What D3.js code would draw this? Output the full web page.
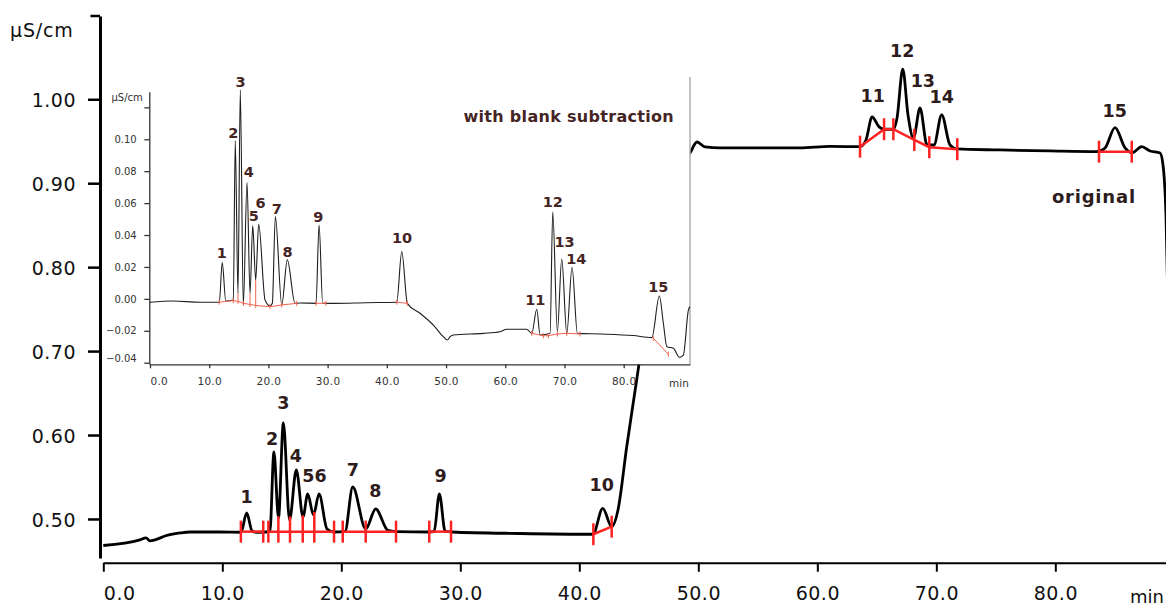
<!DOCTYPE html>
<html><head><meta charset="utf-8">
<script src="https://cdn.jsdelivr.net/npm/d3@7"></script>
<style>
html,body{margin:0;padding:0;background:#fff;}
svg{display:block;}
</style></head><body>
<svg id="chart" width="1166" height="606"></svg>
<script>
// ---------------- data ----------------
const mainTime = [0,3.08,3.59,3.92,4.34,5.18,6.45,7.29,9.8,11.57,12.05,12.5,12.83,13.67,14.0,14.34,14.72,15.13,15.65,16.22,16.78,17.18,17.66,18.13,18.8,19.39,20.31,20.96,22.05,22.89,23.92,24.6,27.45,27.8,28.24,28.73,29.3,35.0,41.15,41.97,42.72,43.25,43.98,44.82,45.94,47.62,48.88,49.3,49.89,50.56,51.82,58.54,61.07,63.59,64.09,64.6,65.19,65.61,66.39,66.7,67.18,67.62,68.08,68.63,69.22,69.8,70.45,71.15,71.74,75.35,79.55,83.5,84.18,85.02,85.86,86.45,87.26,87.96,88.8,89.05,89.3,89.64];
const mainSignal = [0.4684,0.475,0.4774,0.4738,0.475,0.4797,0.4833,0.4845,0.4845,0.4842,0.5071,0.4857,0.4842,0.4845,0.4851,0.5798,0.5012,0.6144,0.4988,0.5584,0.5024,0.5298,0.5048,0.5298,0.4881,0.4845,0.4851,0.5381,0.4881,0.5119,0.4863,0.4849,0.4845,0.4851,0.5298,0.4851,0.4845,0.4827,0.4818,0.5127,0.4908,0.5107,0.5858,0.6656,0.7728,0.88,0.9277,0.936,0.9491,0.9432,0.942,0.942,0.9438,0.9435,0.9515,0.9789,0.9671,0.9643,0.9643,0.9778,1.0358,0.9813,0.9539,0.9896,0.9455,0.9455,0.9813,0.9455,0.9408,0.9396,0.9384,0.9376,0.942,0.9662,0.942,0.9364,0.9435,0.9384,0.936,0.9217,0.8622,0.64];

const insetTime = [0,3.9,8.4,11.7,12.2,12.8,14.07,14.4,14.86,15.25,15.76,16.39,16.89,17.35,17.85,18.36,19.43,20.27,20.66,21.17,22.25,23.19,24.49,25.3,28.04,28.55,29.17,30.96,36.6,41.67,42.52,43.46,45.6,47.86,49.54,50.22,50.68,51.23,56.3,59.12,60.25,63.6,64.48,65.32,65.88,67.57,68.02,68.8,69.54,70.39,71.28,72.18,76.0,81.6,84.75,86.03,86.7,87.3,88.4,89.41,90.08,90.93,91.2];
const insetSignal = [-0.0021,-0.0013,-0.0021,-0.0021,0.0227,-0.0013,-0.0007,0.0991,0.0035,0.1309,-0.0038,0.0728,0.0035,0.0459,0.0118,0.0467,-0.0007,-0.0044,-0.0028,0.0515,-0.0038,0.0244,-0.0028,-0.0026,-0.0028,0.0463,-0.0028,-0.0028,-0.0024,-0.0021,0.0296,-0.0028,-0.009,-0.0164,-0.0237,-0.0258,-0.0237,-0.0226,-0.0216,-0.0206,-0.019,-0.019,-0.0216,-0.0065,-0.0226,-0.0216,0.0546,-0.0206,0.025,-0.0216,0.0198,-0.0216,-0.022,-0.023,-0.0243,0.0018,-0.0153,-0.03,-0.031,-0.0366,-0.0352,-0.007,-0.0049];

// integration baselines: [time, value] boundary points per group
const mainIntegration = [
  [[11.56,0.4849],[13.44,0.4849]],
  [[13.87,0.4849],[14.71,0.4849],[15.69,0.4849],[16.76,0.4849],[17.73,0.4849],[19.39,0.4849]],
  [[20.12,0.4849],[22.05,0.4849],[24.6,0.4849]],
  [[27.39,0.4849],[29.22,0.4849]],
  [[41.18,0.4818],[42.72,0.4908]],
  [[63.59,0.9435],[65.61,0.9643],[66.39,0.9643],[68.15,0.9515],[69.41,0.9429],[71.76,0.9405]],
  [[83.67,0.9376],[86.42,0.9376]]
];
const insetIntegration = [
  [[11.7,-0.0021],[14.07,-0.0011],[14.86,-0.0016],[15.76,-0.0028],[16.89,-0.0035],[17.85,-0.0041],[20.27,-0.0049],[22.25,-0.0038],[24.78,-0.0028]],
  [[28.04,-0.0028],[29.7,-0.0028]],
  [[41.67,-0.0021],[43.46,-0.0028]],
  [[64.48,-0.0216],[66.44,-0.0231],[67.28,-0.0231],[68.8,-0.022],[70.39,-0.0216],[72.64,-0.022]],
  [[85.0,-0.0247],[87.55,-0.0347]]
];

const mainPeakNames = ["1","2","3","4","56","7","8","9","10","11","12","13","14","15"];
const mainPeakTime  = [12.05,14.18,15.13,16.18,17.75,20.97,22.87,28.34,41.88,64.66,67.13,68.87,70.45,84.99];
const mainPeakLabelValue = [0.5187,0.5882,0.6307,0.5683,0.5444,0.5512,0.5259,0.5444,0.5337,0.9971,1.0508,1.015,0.9952,0.9786];

const insetPeakNames = ["1","2","3","4","5","6","7","8","9","10","11","12","13","14","15"];
const insetPeakTime  = [12.11,14.07,15.29,16.67,17.53,18.67,21.4,23.23,28.43,42.57,65.08,68.04,70.02,72.01,85.86];
const insetPeakLabelValue = [0.0254,0.1006,0.1326,0.0762,0.049,0.0568,0.0532,0.0261,0.048,0.0348,-0.0038,0.0574,0.0323,0.0219,0.0045];

const mainXTicks = [0,10,20,30,40,50,60,70,80];
const mainYTicks = [0.5,0.6,0.7,0.8,0.9,1.0];
const insetXTicks = [0,10,20,30,40,50,60,70,80];
const insetYTicks = [-0.04,-0.02,0,0.02,0.04,0.06,0.08,0.10,0.12];

// ---------------- drawing ----------------
const W = 1166, H = 606;
const svg = d3.select('#chart');
svg.append('rect').attr('width', W).attr('height', H).attr('fill', '#fff');

const FONT = "'DejaVu Sans', Verdana, sans-serif";
const LABEL_COLOR = '#2e1c1c';

const x = d3.scaleLinear().domain([0, 89.3]).range([103.3, 1166]);
const y = d3.scaleLinear().domain([0.4535, 1.0992]).range([558, 16]);

function interp(ts, vs, t) {
  const i = d3.bisectLeft(ts, t);
  if (i <= 0) return vs[0];
  if (i >= ts.length) return vs[vs.length - 1];
  const f = (t - ts[i-1]) / (ts[i] - ts[i-1]);
  return vs[i-1] + f * (vs[i] - vs[i-1]);
}

// main x axis
const gx = svg.append('g').attr('transform', 'translate(0,562.7)')
  .call(d3.axisBottom(x).tickValues(mainXTicks).tickSize(9).tickSizeOuter(0).tickFormat(d3.format('.1f')));
gx.select('.domain').attr('stroke', '#000').attr('stroke-width', 2);
gx.selectAll('.tick line').attr('stroke', '#000').attr('stroke-width', 2);
gx.selectAll('.tick text').attr('font-family', FONT).attr('font-size', 19).attr('fill', '#111')
  .attr('letter-spacing', 0.5).attr('y', 24)
  .attr('text-anchor', d => d === 0 ? 'start' : 'middle');
svg.append('text').attr('x', 1130).attr('y', 603).attr('font-family', FONT).attr('font-size', 18)
  .attr('fill', '#111').text('min');

// main y axis
const gy = svg.append('g').attr('transform', 'translate(100,0)')
  .call(d3.axisLeft(y).tickValues(mainYTicks).tickSize(12).tickSizeOuter(0).tickFormat(d3.format('.2f')));
gy.select('.domain').attr('stroke', '#000').attr('stroke-width', 3);
gy.selectAll('.tick line').attr('stroke', '#000').attr('stroke-width', 2.5);
gy.selectAll('.tick text').attr('font-family', FONT).attr('font-size', 19).attr('fill', '#111')
  .attr('letter-spacing', 0.5).attr('x', -24).attr('dy', '0.4em');
svg.append('line').attr('x1', 90.5).attr('x2', 100).attr('y1', y.range()[1]).attr('y2', y.range()[1])
  .attr('stroke', '#000').attr('stroke-width', 2.5);
svg.append('text').attr('x', 10).attr('y', 37).attr('font-family', FONT).attr('font-size', 19)
  .attr('fill', '#111').attr('letter-spacing', 0.8).text('μS/cm');

// main trace
const mainData = mainTime.map((t, i) => [t, mainSignal[i]]);
const lineMain = d3.line().x(d => x(d[0])).y(d => y(d[1])).curve(d3.curveMonotoneX);
svg.append('path').datum(mainData).attr('d', lineMain).attr('fill', 'none')
  .attr('stroke', '#000').attr('stroke-width', 2.8).attr('stroke-linejoin', 'round');

// main integration marks
const gRed = svg.append('g');
mainIntegration.forEach(group => {
  gRed.append('path').datum(group)
    .attr('d', d3.line().x(d => x(d[0])).y(d => y(d[1])))
    .attr('fill', 'none').attr('stroke', '#ff2222').attr('stroke-width', 2.5);
  group.forEach((p, i) => {
    const yb = y(p[1]);
    let top = yb - 11;
    if (i > 0 && i < group.length - 1) {
      top = Math.min(top, y(interp(mainTime, mainSignal, p[0])));
    }
    gRed.append('line').attr('x1', x(p[0])).attr('x2', x(p[0]))
      .attr('y1', yb + 11).attr('y2', top)
      .attr('stroke', '#ff2222').attr('stroke-width', 2.5);
  });
});

// main peak labels
svg.append('g').selectAll('text').data(mainPeakNames).join('text')
  .attr('x', (d, i) => x(mainPeakTime[i])).attr('y', (d, i) => y(mainPeakLabelValue[i]))
  .attr('text-anchor', 'middle').attr('font-family', FONT).attr('font-weight', 'bold')
  .attr('font-size', 17.5).attr('fill', LABEL_COLOR).text(d => d);
svg.append('text').attr('x', x(83.24)).attr('y', y(0.8768)).attr('text-anchor', 'middle')
  .attr('font-family', FONT).attr('font-weight', 'bold').attr('font-size', 18)
  .attr('letter-spacing', 0.8).attr('fill', LABEL_COLOR).text('original');

// ---------------- inset ----------------
const xi = d3.scaleLinear().domain([0, 91.2]).range([150, 690]);
const yi = d3.scaleLinear().domain([-0.041, 0.1298]).range([364.3, 91.7]);

const inset = svg.append('g');
inset.append('rect').attr('x', 103).attr('y', 72).attr('width', 587).attr('height', 292.3).attr('fill', '#fff');
inset.append('line').attr('x1', 690).attr('x2', 690).attr('y1', 77).attr('y2', 364.3)
  .attr('stroke', '#b0b0b0').attr('stroke-width', 1.5);

const gxi = inset.append('g').attr('transform', 'translate(0,364.3)')
  .call(d3.axisBottom(xi).tickValues(insetXTicks).tickSize(4).tickSizeOuter(0).tickFormat(d3.format('.1f')));
gxi.select('.domain').attr('stroke', '#333').attr('stroke-width', 1.3);
gxi.selectAll('.tick line').attr('stroke', '#333').attr('stroke-width', 1.3);
gxi.selectAll('.tick text').attr('font-family', FONT).attr('font-size', 10.5).attr('fill', '#333')
  .attr('letter-spacing', 0.3).attr('y', 13.2)
  .attr('text-anchor', d => d === 0 ? 'start' : 'middle');
inset.append('text').attr('x', 669).attr('y', 387).attr('font-family', FONT).attr('font-size', 10.5)
  .attr('fill', '#333').text('min');

const gyi = inset.append('g').attr('transform', 'translate(149.3,0)')
  .call(d3.axisLeft(yi).tickValues(insetYTicks).tickSize(5).tickSizeOuter(0)
    .tickFormat(d => d > 0.11 ? '' : d3.format('.2f')(d)));
gyi.select('.domain').attr('stroke', '#333').attr('stroke-width', 1.3);
gyi.selectAll('.tick line').attr('stroke', '#333').attr('stroke-width', 1.3);
gyi.selectAll('.tick text').attr('font-family', FONT).attr('font-size', 10).attr('fill', '#333')
  .attr('x', -12.6).attr('dy', d => d < -0.03 ? '-0.1em' : '0.32em');
inset.append('text').attr('x', 111.5).attr('y', 101).attr('font-family', FONT).attr('font-size', 10)
  .attr('fill', '#333').text('μS/cm');

// inset trace
const insetData = insetTime.map((t, i) => [t, insetSignal[i]]);
inset.append('path').datum(insetData)
  .attr('d', d3.line().x(d => xi(d[0])).y(d => yi(d[1])).curve(d3.curveMonotoneX))
  .attr('fill', 'none').attr('stroke', '#1e1e1e').attr('stroke-width', 1.1);

// inset integration
insetIntegration.forEach(group => {
  inset.append('path').datum(group)
    .attr('d', d3.line().x(d => xi(d[0])).y(d => yi(d[1])))
    .attr('fill', 'none').attr('stroke', '#f2624f').attr('stroke-width', 1);
  group.forEach((p, i) => {
    const yb = yi(p[1]);
    let top = yb - 2.5;
    if (group.length > 2 && i > 0 && i < group.length - 1 && group === insetIntegration[0]) {
      top = Math.min(top, yi(interp(insetTime, insetSignal, p[0])));
    }
    inset.append('line').attr('x1', xi(p[0])).attr('x2', xi(p[0]))
      .attr('y1', yb + 2.5).attr('y2', top)
      .attr('stroke', '#f2624f').attr('stroke-width', 1);
  });
});

// inset labels
inset.append('g').selectAll('text').data(insetPeakNames).join('text')
  .attr('x', (d, i) => xi(insetPeakTime[i])).attr('y', (d, i) => yi(insetPeakLabelValue[i]))
  .attr('text-anchor', 'middle').attr('font-family', FONT).attr('font-weight', 'bold')
  .attr('font-size', 14.5).attr('fill', '#452424').text(d => d);
inset.append('text').attr('x', xi(88.5)).attr('y', 122).attr('text-anchor', 'end')
  .attr('font-family', FONT).attr('font-weight', 'bold').attr('font-size', 16)
  .attr('letter-spacing', 0.3).attr('fill', '#452424').text('with blank subtraction');
</script>
</body></html>
